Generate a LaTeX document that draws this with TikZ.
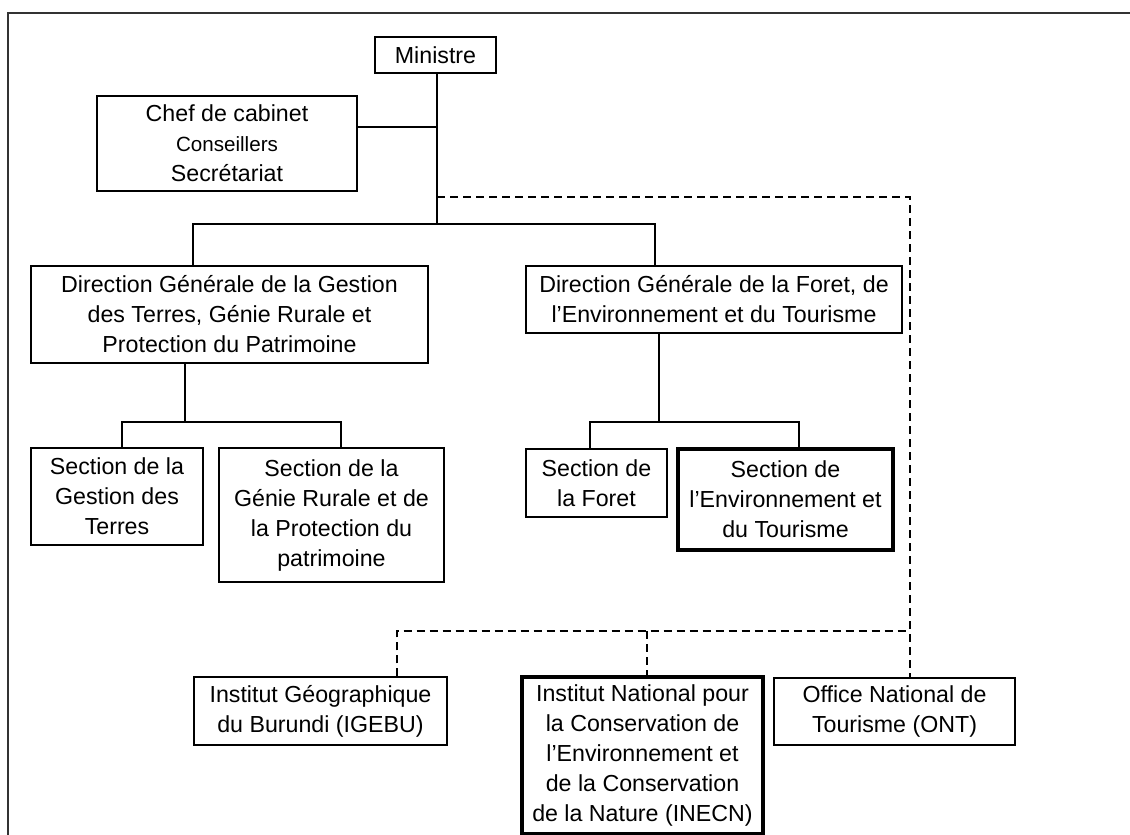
\documentclass[tikz,border=0pt]{standalone}
\usepackage{fontspec}
\setmainfont{Liberation Sans}
\usepackage{tikz}
\usetikzlibrary{positioning}
\tikzstyle{unit}=[rectangle, draw, line width=0.7pt, align=center, inner sep=2pt]
\tikzstyle{keyunit}=[unit, line width=1.8pt]
\tikzstyle{link}=[line width=0.7pt]
\tikzstyle{tutelle}=[line width=0.7pt, dash pattern=on 4pt off 2.5pt]

\begin{document}
\begin{tikzpicture}[x=0.5pt,y=-0.5pt,font=\fontsize{11.6}{15}\selectfont]
  \useasboundingbox (0,0) rectangle (1130,835);
  \draw[line width=0.8pt,black!80] (8,835) -- (8,13) -- (1130,13);

  \node[unit, minimum width=60.5pt, minimum height=18pt] (ministre) at (435.5,55) {Ministre};
  \node[unit, minimum width=130pt, minimum height=47.5pt] (chef) at (227,143.5)
    {Chef de cabinet\\{\fontsize{10.3}{14}\selectfont Conseillers}\\Secrétariat};
  \node[unit, minimum width=198.5pt, minimum height=48.5pt] (dgterres) at (229.5,314.5)
    {Direction Générale de la Gestion\\des Terres, Génie Rurale et\\Protection du Patrimoine};
  \node[unit, minimum width=188pt, minimum height=33.5pt] (dgforet) at (714,299.5)
    {Direction Générale de la Foret, de\\l’Environnement et du Tourisme};
  \node[unit, minimum width=86pt, minimum height=48.5pt] (sgestion) at (117,496.5)
    {Section de la\\Gestion des\\Terres};
  \node[unit, minimum width=112.5pt, minimum height=67pt] (sgenie) at (331.5,515)
    {Section de la\\Génie Rurale et de\\la Protection du\\patrimoine};
  \node[unit, minimum width=70.5pt, minimum height=34pt] (sforet) at (596.5,483)
    {Section de\\la Foret};
  \node[keyunit, minimum width=107.5pt, minimum height=50.5pt] (senv) at (785.5,499.5)
    {Section de\\l’Environnement et\\du Tourisme};
  \node[unit, minimum width=126.5pt, minimum height=34pt] (igebu) at (320.5,711)
    {Institut Géographique\\du Burundi (IGEBU)};
  \node[keyunit, minimum width=120.5pt, minimum height=78.5pt] (inecn) at (642.5,755.5)
    {Institut National pour\\la Conservation de\\l’Environnement et\\de la Conservation\\de la Nature (INECN)};
  \node[unit, minimum width=120.5pt, minimum height=33.5pt] (ont) at (894.5,711.5)
    {Office National de\\Tourisme (ONT)};

  \coordinate (axe) at (437,224);
  \coordinate (cab) at (437,127);
  \coordinate (dg1) at (193,224);
  \coordinate (dg2) at (655,224);
  \coordinate (tut) at (437,197);
  \coordinate (tutr) at (910,197);
  \coordinate (tutb) at (910,631);
  \coordinate (sub1) at (185,422);
  \coordinate (s1) at (122,422);
  \coordinate (s2) at (341,422);
  \coordinate (sub2) at (659,422);
  \coordinate (s3) at (590,422);
  \coordinate (s4) at (799,422);
  \coordinate (e1) at (397,631);
  \coordinate (e2) at (647,631);

  \draw[link] (ministre.south -| axe) -- (axe);
  \draw[link] (chef.east |- cab) -- (cab);
  \draw[link] (dg1 |- dgterres.north) -- (dg1) -- (dg2) -- (dg2 |- dgforet.north);
  \draw[link] (sub1 |- dgterres.south) -- (sub1);
  \draw[link] (s1 |- sgestion.north) -- (s1) -- (s2) -- (s2 |- sgenie.north);
  \draw[link] (sub2 |- dgforet.south) -- (sub2);
  \draw[link] (s3 |- sforet.north) -- (s3) -- (s4) -- (s4 |- senv.north);

  \draw[tutelle] (tut) -- (tutr) -- (tutb |- ont.north);
  \draw[tutelle] (e1 |- igebu.north) -- (e1) -- (tutb);
  \draw[tutelle] (e2) -- (e2 |- inecn.north);
\end{tikzpicture}
\end{document}
